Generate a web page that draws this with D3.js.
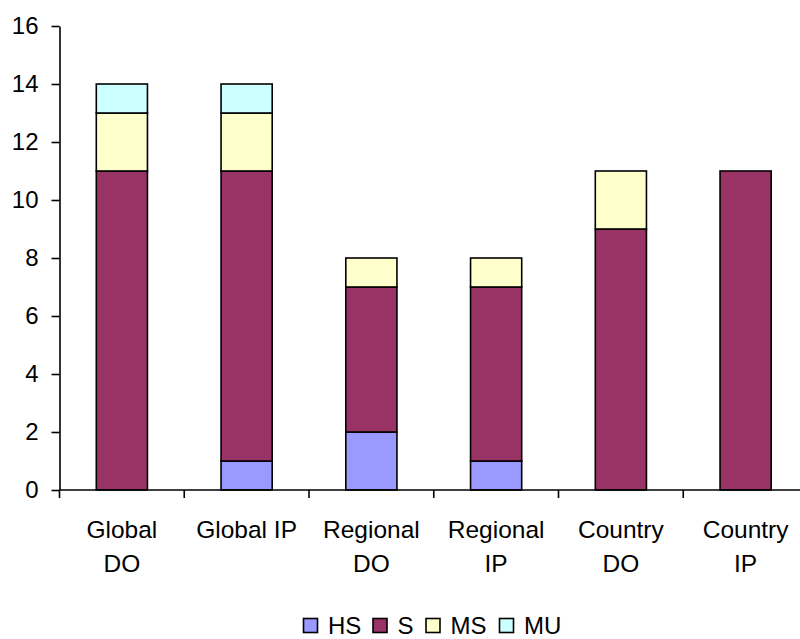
<!DOCTYPE html>
<html>
<head>
<meta charset="utf-8">
<script src="https://cdn.jsdelivr.net/npm/d3@7/dist/d3.min.js"></script>
<style>
  html, body { margin: 0; padding: 0; background: #fff; }
  svg { display: block; font-family: "Liberation Sans", Arial, sans-serif; }
</style>
</head>
<body>
<svg id="chart" width="800" height="639"></svg>
<script>
// Categories and stacked series values
const categories = ["Global DO", "Global IP", "Regional DO", "Regional IP", "Country DO", "Country IP"];
const categoryLines = [["Global", "DO"], ["Global IP"], ["Regional", "DO"], ["Regional", "IP"], ["Country", "DO"], ["Country", "IP"]];
const seriesNames = ["HS", "S", "MS", "MU"];
const HS = [0, 1, 2, 1, 0, 0];
const S  = [11, 10, 5, 6, 9, 11];
const MS = [2, 2, 1, 1, 2, 0];
const MU = [1, 1, 0, 0, 0, 0];
const yTicks = [0, 2, 4, 6, 8, 10, 12, 14, 16];
const colors = { HS: "#9999FF", S: "#993366", MS: "#FFFFCC", MU: "#CCFFFF" };

const rows = categories.map((c, i) => ({ category: c, HS: HS[i], S: S[i], MS: MS[i], MU: MU[i] }));

const svg = d3.select("#chart");
const plotLeft = 59.5, plotRight = 808, plotTop = 26, plotBottom = 490;

const x = d3.scaleBand().domain(categories).range([plotLeft, plotRight])
  .paddingInner(0.59).paddingOuter(0.295);
const y = d3.scaleLinear().domain([0, 16]).range([plotBottom, plotTop]);

const stacked = d3.stack().keys(seriesNames)(rows);

// Bars
svg.append("g").selectAll("g")
  .data(stacked)
  .join("g")
  .attr("fill", d => colors[d.key])
  .selectAll("rect")
  .data(d => d.filter(s => s[1] - s[0] > 0))
  .join("rect")
  .attr("x", d => x(d.data.category))
  .attr("width", x.bandwidth())
  .attr("y", d => y(d[1]))
  .attr("height", d => y(d[0]) - y(d[1]))
  .attr("stroke", "#000")
  .attr("stroke-width", 1.6);

// Y axis
const yAxis = svg.append("g")
  .attr("transform", `translate(${plotLeft},0)`)
  .call(d3.axisLeft(y).tickValues(yTicks).tickSize(8).tickPadding(13).tickSizeOuter(0));
yAxis.select(".domain").attr("stroke", "#000").attr("stroke-width", 1.6);
yAxis.selectAll(".tick line").attr("stroke", "#000").attr("stroke-width", 1.6);
yAxis.selectAll(".tick text")
  .attr("font-size", 24).attr("fill", "#000")
  .attr("font-family", "'Liberation Sans', Arial, sans-serif");

// X axis line with ticks at category boundaries
const xg = svg.append("g");
xg.append("line")
  .attr("x1", plotLeft).attr("x2", plotRight)
  .attr("y1", plotBottom).attr("y2", plotBottom)
  .attr("stroke", "#000").attr("stroke-width", 1.6);
xg.selectAll("line.tick")
  .data(categories.map((c, i) => plotLeft + i * x.step()))
  .join("line")
  .attr("class", "tick")
  .attr("x1", d => d).attr("x2", d => d)
  .attr("y1", plotBottom).attr("y2", plotBottom + 8)
  .attr("stroke", "#000").attr("stroke-width", 1.6);

// Category labels
const labels = xg.selectAll("text.cat")
  .data(categories)
  .join("text")
  .attr("class", "cat")
  .attr("text-anchor", "middle")
  .attr("font-size", 24.5)
  .attr("fill", "#000");
labels.each(function(c, i) {
  const t = d3.select(this);
  categoryLines[i].forEach((line, j) => {
    t.append("tspan")
      .attr("x", x(c) + x.bandwidth() / 2)
      .attr("y", 538 + j * 33.5)
      .text(line);
  });
});

// Legend
const legendX = [303.5, 373, 426, 499.5];
const legend = svg.append("g").selectAll("g")
  .data(seriesNames)
  .join("g")
  .attr("transform", (d, i) => `translate(${legendX[i]},0)`);
legend.append("rect")
  .attr("x", 0).attr("y", 618.5)
  .attr("width", 14).attr("height", 14)
  .attr("fill", d => colors[d])
  .attr("stroke", "#000").attr("stroke-width", 1.6);
legend.append("text")
  .attr("x", 24.5).attr("y", 634)
  .attr("font-size", 24).attr("fill", "#000")
  .text(d => d);
</script>
</body>
</html>
